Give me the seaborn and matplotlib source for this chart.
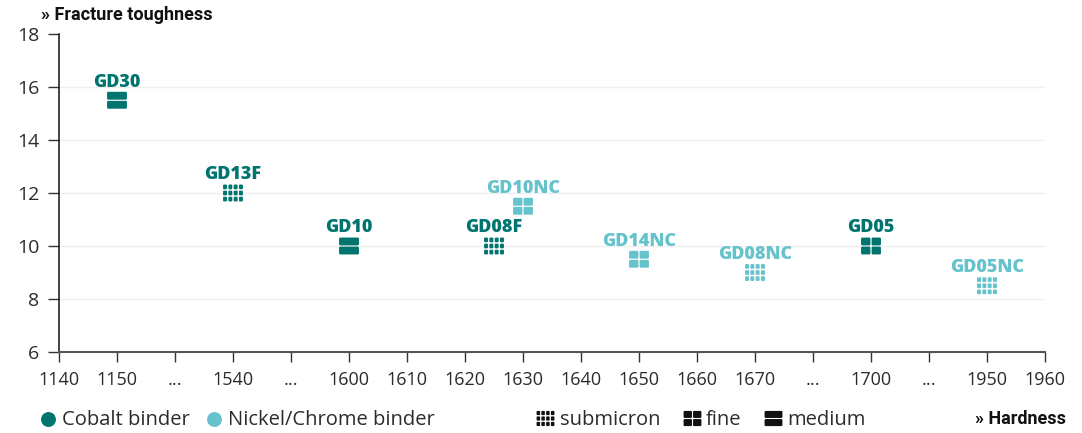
import numpy as np
import pandas as pd
import seaborn as sns
import matplotlib
matplotlib.use("Agg")
import matplotlib.pyplot as plt
from matplotlib.path import Path

names = ["GD30", "GD13F", "GD10", "GD08F", "GD10NC", "GD14NC", "GD08NC", "GD05", "GD05NC"]
hardness = [1150, 1540, 1600, 1625, 1630, 1650, 1670, 1700, 1950]
toughness = [15.5, 12.0, 10.0, 10.0, 11.5, 9.5, 9.0, 10.0, 8.5]
binder = ["Cobalt binder", "Cobalt binder", "Cobalt binder", "Cobalt binder", "Nickel/Chrome binder",
          "Nickel/Chrome binder", "Nickel/Chrome binder", "Cobalt binder", "Nickel/Chrome binder"]
grain = ["medium", "submicron", "medium", "submicron", "fine", "fine", "submicron", "fine", "submicron"]
tick_values = [1140, 1150, 1345, 1540, 1570, 1600, 1610, 1620, 1630, 1640, 1650, 1660, 1670, 1685, 1700, 1825, 1950, 1960]
tick_labels = ["1140", "1150", "...", "1540", "...", "1600", "1610", "1620", "1630", "1640", "1650", "1660", "1670",
               "...", "1700", "...", "1950", "1960"]
y_ticks = [6, 8, 10, 12, 14, 16, 18]
palette = {"Cobalt binder": "#00756F", "Nickel/Chrome binder": "#66C3CC"}

FONT = "Open Sans"
TEXT = "#2b2b2b"

sns.set_theme(style="white")
plt.rcParams["font.family"] = [FONT, "DejaVu Sans"]


def rrect(x0, y0, x1, y1, r):
    k = r
    v = [(x0 + k, y0), (x1 - k, y0), (x1, y0), (x1, y0 + k), (x1, y1 - k), (x1, y1), (x1 - k, y1),
         (x0 + k, y1), (x0, y1), (x0, y1 - k), (x0, y0 + k), (x0, y0), (x0 + k, y0), (x0 + k, y0)]
    c = [Path.MOVETO, Path.LINETO, Path.CURVE3, Path.CURVE3, Path.LINETO, Path.CURVE3, Path.CURVE3,
         Path.LINETO, Path.CURVE3, Path.CURVE3, Path.LINETO, Path.CURVE3, Path.CURVE3, Path.CLOSEPOLY]
    return Path(v, c)


def grid_marker(cols, rows, gap=0.12, r=0.12):
    w = (2 - gap * (cols - 1)) / cols
    h = (1.7 - gap * (rows - 1)) / rows
    parts = []
    for i in range(cols):
        for j in range(rows):
            x0 = -1 + i * (w + gap)
            y0 = -0.85 + j * (h + gap)
            parts.append(rrect(x0, y0, x0 + w, y0 + h, min(r, w / 4, h / 4)))
    return Path.make_compound_path(*parts)


markers = {"submicron": grid_marker(4, 3, gap=0.14), "fine": grid_marker(2, 2), "medium": grid_marker(1, 2)}

df = pd.DataFrame({"name": names, "hardness": hardness, "toughness": toughness, "binder": binder, "grain": grain})

fig = plt.figure(figsize=(10.82, 4.33), dpi=100)
ax = fig.add_axes([59 / 1082, 1 - 352 / 433, (1045 - 59) / 1082, (352 - 34) / 433])
idx = np.arange(len(tick_values), dtype=float)
ax.set_xscale("function", functions=(lambda v: np.interp(v, tick_values, idx),
                                     lambda v: np.interp(v, idx, tick_values)))
sns.scatterplot(data=df, x="hardness", y="toughness", hue="binder", style="grain", palette=palette,
                markers=markers, s=205, linewidth=0, legend=False, ax=ax, clip_on=False, zorder=3)
ax.set_xlim(tick_values[0], tick_values[-1])
ax.set_ylim(y_ticks[0], y_ticks[-1])
ax.set_xticks(tick_values)
ax.set_xticklabels(tick_labels)
ax.xaxis.set_minor_locator(matplotlib.ticker.NullLocator())
ax.set_yticks(y_ticks)
ax.set_xlabel("")
ax.set_ylabel("")
ax.tick_params(axis="x", length=7.5, width=1, color="#333333", labelsize=13, labelcolor=TEXT, pad=6, bottom=True)
ax.tick_params(axis="y", length=8, width=1, color="#333333", labelsize=14, labelcolor=TEXT, pad=6, left=True)
ax.grid(axis="y", color="#EFEFEF", linewidth=1)
ax.grid(axis="x", visible=False)
ax.yaxis.get_gridlines()[-1].set_visible(False)
ax.yaxis.get_gridlines()[0].set_visible(False)
ax.set_axisbelow(True)
for s in ("top", "right"):
    ax.spines[s].set_visible(False)
ax.spines["left"].set_color("#111111")
ax.spines["left"].set_linewidth(1.1)
ax.spines["bottom"].set_color("#555555")
ax.spines["bottom"].set_linewidth(1.5)

for _, row in df.iterrows():
    ax.annotate(row["name"], (row["hardness"], row["toughness"]), xytext=(0, 13), textcoords="offset points",
                ha="center", va="center", fontsize=13, fontweight="heavy", color=palette[row["binder"]],
                family=["Open Sans", "DejaVu Sans"], zorder=4)

W, H = 1082, 433
def px(x, y):
    return x / W, 1 - y / H

fig.text(*px(41, 15), "» Fracture toughness", ha="left", va="center", fontsize=13, fontweight="bold",
         color="#111111", family=["Roboto", "DejaVu Sans"])
fig.text(*px(1066, 419), "» Hardness", ha="right", va="center", fontsize=13, fontweight="bold",
         color="#111111", family=["Roboto", "DejaVu Sans"])

# legend row
for (x, label, tx) in [(48, "Cobalt binder", 62), (214, "Nickel/Chrome binder", 228)]:
    ax.scatter(*px(x, 419), s=115, color=palette[label], linewidth=0, transform=fig.transFigure, clip_on=False)
    fig.text(*px(tx, 420), label, ha="left", va="center", fontsize=14.5, color=TEXT)
for (x, label, tx) in [(545, "submicron", 560), (692, "fine", 706), (773, "medium", 787)]:
    ax.scatter(*px(x, 418), s=165, marker=markers[label], color="#111111", linewidth=0,
               transform=fig.transFigure, clip_on=False)
    fig.text(*px(tx, 420), label, ha="left", va="center", fontsize=14.5, color=TEXT)

fig.savefig("out.png", dpi=100)
